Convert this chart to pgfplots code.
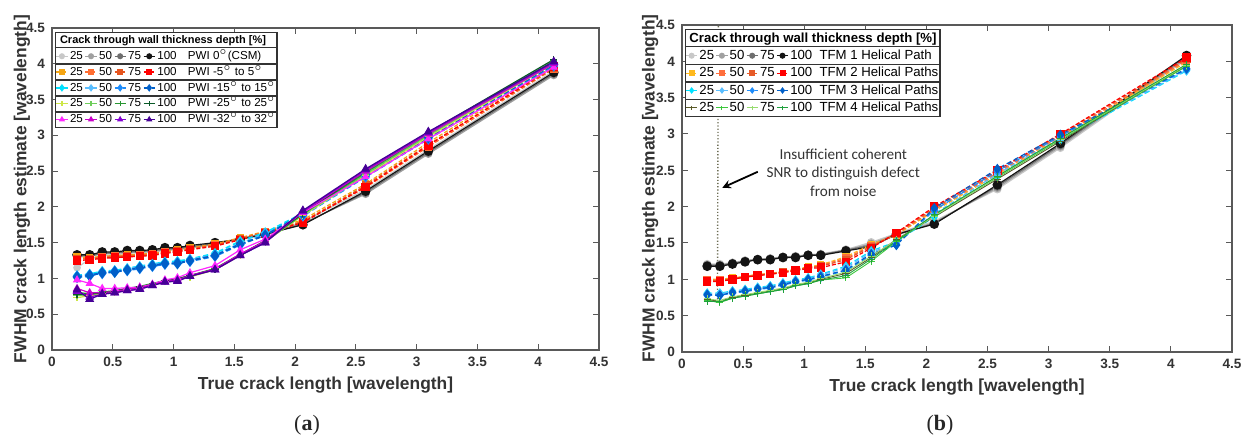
\documentclass[border=0pt]{standalone}
\usepackage{pgfplots}
\pgfplotsset{compat=1.18}
\usepackage{pgfplotstable}
\usepackage{fontspec}
\setmainfont{Liberation Sans}
\newfontfamily\capfont{Liberation Serif}
\newfontfamily\notefont{Carlito}
\usetikzlibrary{calc}

% colours, one set of four per group (25, 50, 75, 100 %)
\definecolor{gA}{RGB}{200,200,200}
\definecolor{gB}{RGB}{160,160,160}
\definecolor{gC}{RGB}{110,110,110}
\definecolor{gD}{RGB}{20,20,20}
\definecolor{oA}{RGB}{245,165,20}
\definecolor{oB}{RGB}{255,110,50}
\definecolor{oC}{RGB}{230,85,30}
\definecolor{oD}{RGB}{255,0,0}
\definecolor{bA}{RGB}{0,225,255}
\definecolor{bB}{RGB}{90,190,255}
\definecolor{bC}{RGB}{30,140,250}
\definecolor{bD}{RGB}{0,95,200}
\definecolor{yA}{RGB}{205,230,70}
\definecolor{yB}{RGB}{110,205,90}
\definecolor{yC}{RGB}{40,150,50}
\definecolor{yD}{RGB}{10,90,40}
\definecolor{mA}{RGB}{255,40,255}
\definecolor{mB}{RGB}{200,0,200}
\definecolor{mC}{RGB}{130,0,210}
\definecolor{mD}{RGB}{70,0,150}
\definecolor{tA}{RGB}{90,90,40}
\definecolor{tB}{RGB}{60,200,60}
\definecolor{tC}{RGB}{150,220,110}
\definecolor{tD}{RGB}{30,160,60}
\definecolor{rA}{RGB}{255,185,30}
\definecolor{rB}{RGB}{255,110,60}
\definecolor{rC}{RGB}{230,90,40}

% (a) PWI
\pgfplotstableread{
x d25 d50 d75 d100
0.206 1.15 1.30 1.32 1.33
0.310 1.27 1.31 1.32 1.33
0.413 1.32 1.34 1.35 1.37
0.516 1.33 1.35 1.36 1.37
0.619 1.35 1.36 1.37 1.39
0.722 1.36 1.37 1.38 1.39
0.826 1.37 1.38 1.39 1.40
0.929 1.39 1.40 1.41 1.43
1.032 1.40 1.41 1.42 1.43
1.135 1.42 1.43 1.44 1.46
1.341 1.47 1.48 1.49 1.50
1.548 1.56 1.56 1.55 1.55
1.754 1.63 1.62 1.61 1.62
2.064 1.79 1.77 1.76 1.75
2.580 2.24 2.18 2.20 2.22
3.096 2.80 2.74 2.76 2.78
4.128 3.90 3.84 3.86 3.88
}\tabAzero
\pgfplotstableread{
x d25 d50 d75 d100
0.206 1.30 1.28 1.27 1.25
0.310 1.29 1.28 1.27 1.26
0.413 1.31 1.30 1.29 1.28
0.516 1.32 1.31 1.30 1.29
0.619 1.33 1.32 1.31 1.30
0.722 1.34 1.33 1.32 1.31
0.826 1.35 1.34 1.33 1.32
0.929 1.38 1.37 1.36 1.35
1.032 1.40 1.39 1.38 1.37
1.135 1.43 1.42 1.41 1.40
1.341 1.48 1.47 1.46 1.45
1.548 1.57 1.56 1.55 1.54
1.754 1.66 1.65 1.64 1.63
2.064 1.82 1.80 1.79 1.78
2.580 2.32 2.27 2.30 2.28
3.096 2.90 2.84 2.87 2.86
4.128 3.97 3.93 3.94 3.96
}\tabAfive
\pgfplotstableread{
x d25 d50 d75 d100
0.206 1.04 1.01 1.03 1.02
0.310 1.06 1.03 1.05 1.04
0.413 1.10 1.09 1.07 1.08
0.516 1.11 1.08 1.10 1.09
0.619 1.14 1.13 1.11 1.12
0.722 1.17 1.16 1.14 1.15
0.826 1.20 1.19 1.17 1.18
0.929 1.23 1.22 1.20 1.21
1.032 1.24 1.20 1.22 1.21
1.135 1.27 1.26 1.24 1.25
1.341 1.35 1.33 1.31 1.32
1.548 1.52 1.49 1.47 1.48
1.754 1.64 1.62 1.61 1.60
2.064 1.91 1.87 1.88 1.90
2.580 2.47 2.44 2.42 2.45
3.096 2.99 2.96 2.95 2.97
4.128 4.00 3.98 3.97 3.99
}\tabAfifteen
\pgfplotstableread{
x d25 d50 d75 d100
0.206 0.73 0.76 0.80 0.78
0.310 0.76 0.77 0.79 0.78
0.413 0.79 0.80 0.81 0.80
0.516 0.81 0.82 0.83 0.82
0.619 0.85 0.85 0.86 0.86
0.722 0.87 0.88 0.89 0.88
0.826 0.91 0.92 0.93 0.92
0.929 0.96 0.96 0.97 0.97
1.032 0.98 0.99 1.00 0.99
1.135 1.02 1.03 1.04 1.04
1.341 1.12 1.13 1.14 1.13
1.548 1.32 1.33 1.34 1.33
1.754 1.52 1.51 1.52 1.53
2.064 1.88 1.89 1.90 1.91
2.580 2.44 2.46 2.48 2.50
3.096 2.98 3.00 3.02 3.04
4.128 4.00 4.02 4.04 4.06
}\tabAtwentyfive
\pgfplotstableread{
x d25 d50 d75 d100
0.206 0.98 0.86 0.82 0.84
0.310 0.93 0.80 0.74 0.71
0.413 0.86 0.80 0.78 0.78
0.516 0.86 0.82 0.80 0.80
0.619 0.87 0.85 0.83 0.83
0.722 0.88 0.87 0.85 0.85
0.826 0.92 0.91 0.90 0.90
0.929 0.98 0.96 0.95 0.95
1.032 1.01 0.98 0.97 0.96
1.135 1.08 1.04 1.03 1.03
1.341 1.18 1.13 1.12 1.12
1.548 1.40 1.34 1.32 1.32
1.754 1.55 1.52 1.50 1.50
2.064 1.92 1.93 1.94 1.95
2.580 2.42 2.50 2.52 2.53
3.096 2.95 3.02 3.04 3.05
4.128 3.95 4.00 4.02 4.03
}\tabAthirtytwo

% (b) TFM
\pgfplotstableread{
x d25 d50 d75 d100
0.206 1.21 1.20 1.19 1.18
0.310 1.21 1.20 1.19 1.18
0.413 1.23 1.22 1.22 1.21
0.516 1.26 1.25 1.25 1.24
0.619 1.28 1.28 1.27 1.27
0.722 1.29 1.28 1.28 1.27
0.826 1.31 1.31 1.30 1.30
0.929 1.32 1.31 1.31 1.30
1.032 1.34 1.34 1.33 1.33
1.135 1.35 1.34 1.34 1.33
1.341 1.41 1.40 1.40 1.39
1.548 1.51 1.49 1.47 1.45
1.754 1.63 1.62 1.61 1.62
2.064 1.80 1.78 1.77 1.76
2.580 2.24 2.26 2.28 2.30
3.096 2.81 2.83 2.85 2.87
4.128 4.03 4.05 4.07 4.08
}\tabBone
\pgfplotstableread{
x d25 d50 d75 d100
0.206 1.00 0.99 0.98 0.97
0.310 1.00 0.99 0.98 0.97
0.413 1.02 1.01 1.01 1.00
0.516 1.04 1.04 1.03 1.03
0.619 1.07 1.06 1.06 1.05
0.722 1.08 1.08 1.07 1.07
0.826 1.11 1.10 1.10 1.09
0.929 1.14 1.13 1.13 1.12
1.032 1.17 1.16 1.16 1.15
1.135 1.20 1.19 1.18 1.16
1.341 1.31 1.29 1.27 1.24
1.548 1.48 1.46 1.45 1.43
1.754 1.61 1.62 1.63 1.64
2.064 1.94 1.96 1.98 2.00
2.580 2.44 2.46 2.48 2.50
3.096 2.95 2.97 2.99 3.00
4.128 3.99 4.01 4.03 4.05
}\tabBtwo
\pgfplotstableread{
x d25 d50 d75 d100
0.206 0.81 0.80 0.78 0.79
0.310 0.81 0.80 0.78 0.78
0.413 0.84 0.83 0.81 0.82
0.516 0.86 0.85 0.83 0.84
0.619 0.89 0.88 0.86 0.87
0.722 0.91 0.90 0.88 0.89
0.826 0.95 0.94 0.92 0.93
0.929 0.99 0.98 0.96 0.97
1.032 1.02 1.01 0.99 1.00
1.135 1.07 1.06 1.03 1.04
1.341 1.18 1.16 1.12 1.13
1.548 1.39 1.37 1.33 1.35
1.754 1.52 1.50 1.48 1.47
2.064 1.86 1.90 1.95 1.98
2.580 2.42 2.45 2.49 2.52
3.096 2.92 2.94 2.97 2.99
4.128 3.87 3.88 3.89 3.90
}\tabBthree
\pgfplotstableread{
x d25 d50 d75 d100
0.206 0.72 0.71 0.73 0.70
0.310 0.70 0.68 0.71 0.69
0.413 0.75 0.74 0.76 0.74
0.516 0.78 0.77 0.79 0.77
0.619 0.81 0.80 0.82 0.80
0.722 0.84 0.83 0.85 0.83
0.826 0.87 0.86 0.88 0.86
0.929 0.92 0.91 0.93 0.91
1.032 0.95 0.94 0.96 0.94
1.135 1.00 0.99 1.01 0.99
1.341 1.08 1.02 1.10 1.05
1.548 1.30 1.25 1.32 1.28
1.754 1.55 1.52 1.54 1.53
2.064 1.86 1.88 1.87 1.89
2.580 2.38 2.40 2.41 2.42
3.096 2.90 2.92 2.93 2.94
4.128 3.94 3.93 3.95 3.96
}\tabBfour

\pgfplotsset{
  crackaxis/.style={
    scale only axis,
    xmin=0, xmax=4.5, ymin=0, ymax=4.5,
    xtick={0,0.5,...,4.5}, ytick={0,0.5,...,4.5},
    tick align=inside, major tick length=3pt,
    axis line style={black!65, line width=0.6pt},
    tick style={black!65, line width=0.5pt},
    /pgf/number format/assume math mode=true,
    ticklabel style={font=\bfseries\fontsize{6.8}{8}\selectfont, text=black!80},
    label style={font=\bfseries\fontsize{8.7}{10}\selectfont, text=black!80},
    xlabel={True crack length [wavelength]},
    ylabel={FWHM crack length estimate [wavelength]},
    xlabel style={at={(axis description cs:0.5,0)}, anchor=center, yshift=-17.5pt},
    legend columns=5,
    legend cell align=left,
    legend image code/.code={\draw[mark repeat=2, mark phase=2, mark size=1.2pt]
      plot coordinates {(0pt,0pt) (2.8pt,0pt) (5.6pt,0pt)};},
    every axis plot/.append style={line width=0.6pt},
  },
  legbox/.style={at={(axis description cs:0.005,0.988)}, anchor=north west,
    draw=black!80, line width=0.7pt, fill=white, inner sep=0pt,
    row sep=0pt, column sep=0pt},
  circ/.style={mark=*, solid, mark options={solid}},
  sq/.style={mark=square*, dash pattern=on 2pt off 1pt, mark options={solid}},
  dia/.style={mark=diamond*, dash pattern=on 2.5pt off 1.5pt, mark options={solid}},
  pls/.style={mark=+, solid, mark options={solid}},
  tri/.style={mark=triangle*, solid, mark options={solid}},
}

\newcommand\emptyentry[1]{\addlegendimage{empty legend}\addlegendentry{#1}}
\newcommand\dg{$^{\scriptscriptstyle\circ}$}

\begin{document}
\begin{tikzpicture}
\useasboundingbox (0,0) rectangle (621.5pt,218.5pt);

% ---------------- (a) ----------------
\begin{axis}[crackaxis,
  at={(26pt,43.5pt)}, anchor=south west,
  width=273.5pt, height=161pt,
  ylabel style={at={(axis description cs:-0.055,0.5)}, anchor=center},
  legend style={legbox, name=legA, font=\fontsize{5.8}{7}\selectfont,
    nodes={inner xsep=0.8pt, inner ysep=0.6pt, text height=5pt, text depth=1.7pt}},
]
\emptyentry{\rlap{\hspace*{-5pt}\bfseries\fontsize{5.5}{7}\selectfont Crack through wall thickness depth [\%]}}
\emptyentry{}\emptyentry{}\emptyentry{}\emptyentry{}

\addplot[gA, circ, mark size=1.6pt] table[y=d25]{\tabAzero}; \addlegendentry{25}
\addplot[gB, circ, mark size=1.7pt] table[y=d50]{\tabAzero}; \addlegendentry{50}
\addplot[gC, circ, mark size=1.8pt] table[y=d75]{\tabAzero}; \addlegendentry{75}
\addplot[gD, circ, mark size=2.1pt] table[y=d100]{\tabAzero}; \addlegendentry{100}
\emptyentry{\hspace{4pt}PWI 0\dg(CSM)}

\addplot[oA, sq, mark size=1.5pt] table[y=d25]{\tabAfive}; \addlegendentry{25}
\addplot[oB, sq, mark size=1.6pt] table[y=d50]{\tabAfive}; \addlegendentry{50}
\addplot[oC, sq, mark size=1.7pt] table[y=d75]{\tabAfive}; \addlegendentry{75}
\addplot[oD, sq, mark size=1.8pt] table[y=d100]{\tabAfive}; \addlegendentry{100}
\emptyentry{\hspace{4pt}PWI -5\dg\ to 5\dg}

\addplot[bA, dia, line width=0.9pt, mark size=2pt] table[y=d25]{\tabAfifteen}; \addlegendentry{25}
\addplot[bB, dia, line width=0.9pt, mark size=2pt] table[y=d50]{\tabAfifteen}; \addlegendentry{50}
\addplot[bC, dia, line width=0.9pt, mark size=2.2pt] table[y=d75]{\tabAfifteen}; \addlegendentry{75}
\addplot[bD, dia, line width=0.9pt, mark size=2.2pt] table[y=d100]{\tabAfifteen}; \addlegendentry{100}
\emptyentry{\hspace{4pt}PWI -15\dg\ to 15\dg}

\addplot[yA, pls, mark size=1.8pt] table[y=d25]{\tabAtwentyfive}; \addlegendentry{25}
\addplot[yB, pls, mark size=1.8pt] table[y=d50]{\tabAtwentyfive}; \addlegendentry{50}
\addplot[yC, pls, mark size=1.8pt] table[y=d75]{\tabAtwentyfive}; \addlegendentry{75}
\addplot[yD, pls, mark size=1.8pt] table[y=d100]{\tabAtwentyfive}; \addlegendentry{100}
\emptyentry{\hspace{4pt}PWI -25\dg\ to 25\dg}

\addplot[mA, tri, mark size=1.8pt] table[y=d25]{\tabAthirtytwo}; \addlegendentry{25}
\addplot[mB, tri, mark size=1.8pt] table[y=d50]{\tabAthirtytwo}; \addlegendentry{50}
\addplot[mC, tri, mark size=2pt] table[y=d75]{\tabAthirtytwo}; \addlegendentry{75}
\addplot[mD, tri, mark size=2pt] table[y=d100]{\tabAthirtytwo}; \addlegendentry{100}
\emptyentry{\hspace{4pt}PWI -32\dg\ to 32\dg}
\end{axis}
\foreach \k in {1,...,5}{
  \draw[black!80, line width=0.6pt] ($(legA.north west)!\k/6!(legA.south west)$) -- ($(legA.north east)!\k/6!(legA.south east)$);
}

% ---------------- (b) ----------------
\begin{axis}[crackaxis,
  at={(341pt,42.5pt)}, anchor=south west,
  width=275pt, height=163.5pt,
  ylabel style={at={(axis description cs:-0.058,0.5)}, anchor=center},
  legend style={legbox, name=legB, font=\fontsize{6.6}{8}\selectfont,
    nodes={inner xsep=0.8pt, inner ysep=0.6pt, text height=5.6pt, text depth=1.9pt}},
]
\emptyentry{\rlap{\hspace*{-5pt}\bfseries Crack through wall thickness depth [\%]}}
\emptyentry{}\emptyentry{}\emptyentry{}\emptyentry{}

% noise spike of one series at the second crack length
\addplot[forget plot, tA!50!gray, densely dotted, line width=0.7pt] coordinates {(0.29,0.68) (0.30,6.0)};

\addplot[gA, circ, mark size=1.8pt] table[y=d25]{\tabBone}; \addlegendentry{25}
\addplot[gB, circ, mark size=1.8pt] table[y=d50]{\tabBone}; \addlegendentry{50}
\addplot[gC, circ, mark size=1.9pt] table[y=d75]{\tabBone}; \addlegendentry{75}
\addplot[gD, circ, mark size=2.1pt] table[y=d100]{\tabBone}; \addlegendentry{100}
\emptyentry{\hspace{2pt}TFM 1 Helical Path}

\addplot[rA, sq, mark size=1.5pt] table[y=d25]{\tabBtwo}; \addlegendentry{25}
\addplot[rB, sq, mark size=1.6pt] table[y=d50]{\tabBtwo}; \addlegendentry{50}
\addplot[rC, sq, mark size=1.7pt] table[y=d75]{\tabBtwo}; \addlegendentry{75}
\addplot[oD, sq, mark size=1.8pt] table[y=d100]{\tabBtwo}; \addlegendentry{100}
\emptyentry{\hspace{2pt}TFM 2 Helical Paths}

\addplot[bA, dia, mark size=2pt] table[y=d25]{\tabBthree}; \addlegendentry{25}
\addplot[bB, dia, mark size=2pt] table[y=d50]{\tabBthree}; \addlegendentry{50}
\addplot[bC, dia, mark size=2.1pt] table[y=d75]{\tabBthree}; \addlegendentry{75}
\addplot[bD, dia, mark size=2.1pt] table[y=d100]{\tabBthree}; \addlegendentry{100}
\emptyentry{\hspace{2pt}TFM 3 Helical Paths}

\addplot[tA, pls, line width=0.45pt, mark size=1.8pt] table[y=d25]{\tabBfour}; \addlegendentry{25}
\addplot[tB, pls, line width=0.45pt, mark size=1.8pt] table[y=d50]{\tabBfour}; \addlegendentry{50}
\addplot[tC, pls, line width=0.45pt, mark size=1.8pt] table[y=d75]{\tabBfour}; \addlegendentry{75}
\addplot[tD, pls, line width=0.45pt, mark size=1.8pt] table[y=d100]{\tabBfour}; \addlegendentry{100}
\emptyentry{\hspace{2pt}TFM 4 Helical Paths}

\draw[-stealth, black, line width=0.9pt] (axis cs:0.62,2.48) -- (axis cs:0.33,2.26);
\node[font=\notefont\fontsize{7.6}{9.25}\selectfont, align=center, text=black!80]
  at (axis cs:1.32,2.47) {Insufficient coherent\\SNR to distinguish defect\\from noise};
\end{axis}
\foreach \k in {1,...,4}{
  \draw[black!80, line width=0.6pt] ($(legB.north west)!\k/5!(legB.south west)$) -- ($(legB.north east)!\k/5!(legB.south east)$);
}

% panel captions
\node[font=\capfont\fontsize{11}{12}\selectfont, text=black!85] at (153.5pt,6pt) {(\textbf{a})};
\node[font=\capfont\fontsize{11}{12}\selectfont, text=black!85] at (470pt,6pt) {(\textbf{b})};
\end{tikzpicture}
\end{document}
